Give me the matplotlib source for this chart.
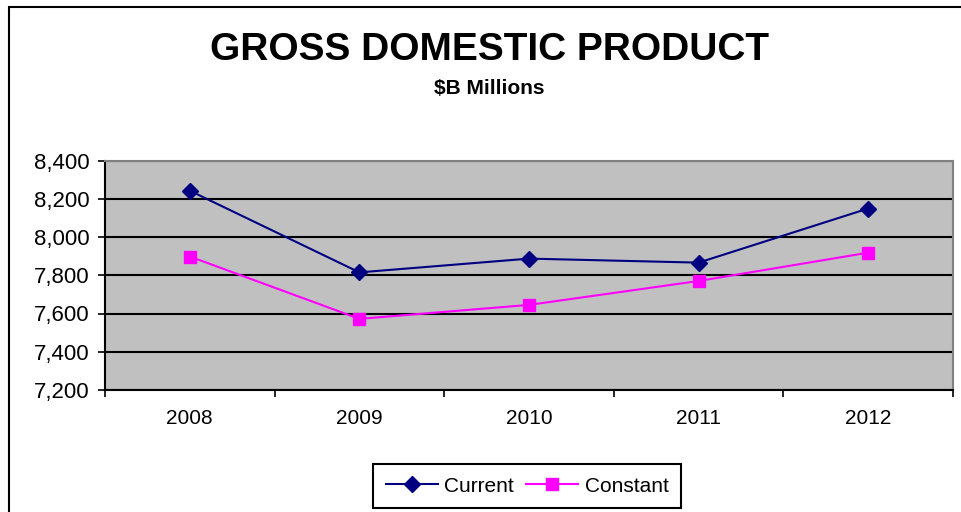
import numpy as np
import matplotlib
matplotlib.use("Agg")
import matplotlib.pyplot as plt
from matplotlib.patches import Rectangle

# Data
years = ['2008', '2009', '2010', '2011', '2012']
current = [8242, 7815, 7887, 7866, 8149]
constant = [7898, 7572, 7645, 7770, 7918]
y_ticks = [7200, 7400, 7600, 7800, 8000, 8200, 8400]

plt.rcParams['font.family'] = ['Liberation Sans', 'DejaVu Sans']

fig = plt.figure(figsize=(9.61, 5.12), dpi=100)
ax = fig.add_axes([105 / 961, 1 - 390 / 512, 848 / 961, 229.5 / 512])

x = np.arange(len(years))
ax.set_facecolor('#C0C0C0')
ax.plot(x, current, color='#000080', lw=1.5, marker='D', ms=8.5, label='Current', zorder=3)
ax.plot(x, constant, color='#FF00FF', lw=1.5, marker='s', ms=8, label='Constant', zorder=3)

ax.set_ylim(7200, 8400)
ax.set_yticks(y_ticks)
ax.set_yticklabels([f'{v:,}' for v in y_ticks], fontsize=16)
ax.yaxis.grid(True, color='black', lw=1.5)
ax.set_axisbelow(True)

ax.set_xlim(-0.5, len(years) - 0.5)
ax.set_xticks(np.arange(len(years) + 1) - 0.5)
ax.set_xticklabels([])
ax.set_xticks(x, minor=True)
ax.set_xticklabels(years, minor=True, fontsize=15)
ax.tick_params(axis='x', which='minor', length=0, pad=14)
ax.tick_params(axis='both', which='major', length=5, width=1.2, color='black')
ax.tick_params(axis='y', pad=6)

for s in ['left', 'bottom']:
    ax.spines[s].set_color('black')
    ax.spines[s].set_linewidth(1.5)
for s in ['top', 'right']:
    ax.spines[s].set_color('#808080')
    ax.spines[s].set_linewidth(1.5)

fig.text(489 / 961, 1 - 50 / 512, 'GROSS DOMESTIC PRODUCT', ha='center', va='center',
         fontsize=28, fontweight='bold')
fig.text(489 / 961, 1 - 88 / 512, '$B Millions', ha='center', va='center',
         fontsize=15, fontweight='bold')

leg = fig.legend(loc='center', bbox_to_anchor=(527 / 961, 1 - 486 / 512), ncol=2,
                 fontsize=15, frameon=True, fancybox=False, framealpha=1, handlelength=2.5,
                 columnspacing=0.6, handletextpad=0.3, borderpad=0.6, borderaxespad=0)
leg.get_frame().set_edgecolor('black')
leg.get_frame().set_linewidth(1.5)

# outer chart border
fig.patches.append(Rectangle((9 / 961, -0.1), 1.2, 1.1 - 7 / 512, transform=fig.transFigure,
                             fill=False, edgecolor='black', lw=1.5))

fig.savefig('out.png', dpi=100)
